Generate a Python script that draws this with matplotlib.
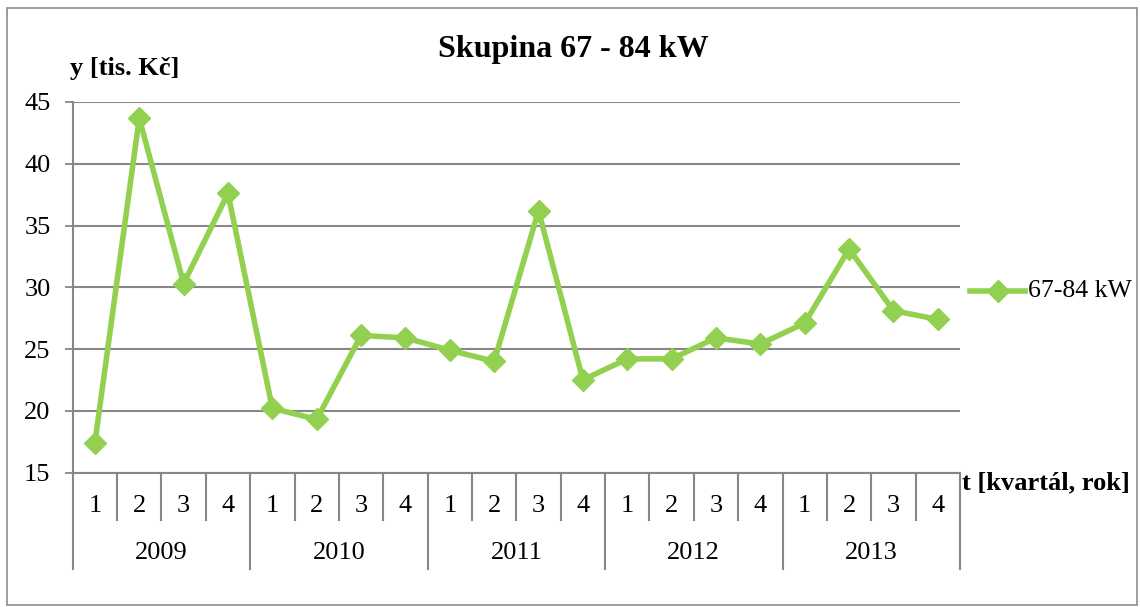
import matplotlib
matplotlib.use("Agg")
import matplotlib.pyplot as plt
import matplotlib.transforms as mtransforms
from matplotlib.lines import Line2D
from matplotlib.patches import Rectangle

years = ["2009", "2010", "2011", "2012", "2013"]
quarters = ["1", "2", "3", "4"]
values = [17.4, 43.7, 30.3, 37.6, 20.2, 19.3, 26.1, 25.9, 24.9, 24.0,
          36.2, 22.5, 24.2, 24.2, 25.9, 25.4, 27.1, 33.1, 28.1, 27.4]
series_name = "67-84 kW"
title = "Skupina 67 - 84 kW"
y_label = "y [tis. Kč]"
x_label = "t [kvartál, rok]"
y_ticks = [15, 20, 25, 30, 35, 40, 45]

plt.rcParams['font.family'] = ['Liberation Serif', 'DejaVu Serif']

W, H = 1140, 607
fig = plt.figure(figsize=(W / 100, H / 100), dpi=100)
green = "#92D050"
grid_c = "#878787"

# outer border
fig.patches.append(Rectangle((7 / W, 1 - 605 / H), (1137 - 7) / W, (605 - 8) / H,
                             transform=fig.transFigure, fill=False,
                             edgecolor="#8c8c8c", linewidth=1.2))

x0, x1 = 72.7, 960
yb, yt = 472.5, 102
ax = fig.add_axes([x0 / W, 1 - yb / H, (x1 - x0) / W, (yb - yt) / H])

n = len(values)
xs = list(range(n))
ax.plot(xs, values, color=green, linewidth=4, marker="D", markersize=11,
        markeredgecolor=green, markerfacecolor=green, zorder=5, clip_on=False)

ax.set_xlim(-0.5, n - 0.5)
ax.set_ylim(15, 45)
ax.set_yticks(y_ticks)
ax.yaxis.grid(True, color=grid_c, linewidth=1.5)
ax.set_axisbelow(True)
ax.tick_params(axis="y", length=6, width=1.3, color=grid_c, labelsize=19,
               pad=10)
ax.set_xticks([])
for s in ["top", "right"]:
    ax.spines[s].set_visible(False)
ax.spines["left"].set_color(grid_c)
ax.spines["left"].set_linewidth(1.5)
ax.spines["bottom"].set_color(grid_c)
ax.spines["bottom"].set_linewidth(1.5)

# multi-level category axis
trans = mtransforms.blended_transform_factory(ax.transData, ax.transAxes)
ax_h = yb - yt
q_bottom = -(520 - yb) / ax_h
y_bottom = -(569 - yb) / ax_h
q_lab = -(506 - yb) / ax_h
y_lab = -(553 - yb) / ax_h
nq = len(quarters)
for k in range(n + 1):
    xb = k - 0.5
    bottom = y_bottom if k % nq == 0 else q_bottom
    ax.add_line(Line2D([xb, xb], [0, bottom], transform=trans, color=grid_c,
                       linewidth=1.5, clip_on=False))
for i in range(n):
    ax.text(i, q_lab, quarters[i % nq], transform=trans, ha="center",
            va="center", fontsize=19)
for j, yr in enumerate(years):
    ax.text(j * nq + (nq - 1) / 2, y_lab, yr, transform=trans, ha="center",
            va="center", fontsize=19)

# texts
fig.text(573 / W, 1 - 49 / H, title, ha="center", va="center", fontsize=23,
         fontweight="bold")
fig.text(70 / W, 1 - 69 / H, y_label, ha="left", va="center", fontsize=19,
         fontweight="bold")
fig.text(962 / W, 1 - 483 / H, x_label, ha="left", va="center", fontsize=19,
         fontweight="bold")

# legend
ly = 1 - 291 / H
fig.lines.append(Line2D([970 / W, 1025 / W], [ly, ly], transform=fig.transFigure,
                        color=green, linewidth=4))
fig.lines.append(Line2D([997.5 / W], [ly], transform=fig.transFigure,
                        color=green, marker="D", markersize=11, linestyle="none"))
fig.text(1028 / W, ly, series_name, ha="left", va="center", fontsize=18.5)

fig.savefig("out.png", dpi=100)
